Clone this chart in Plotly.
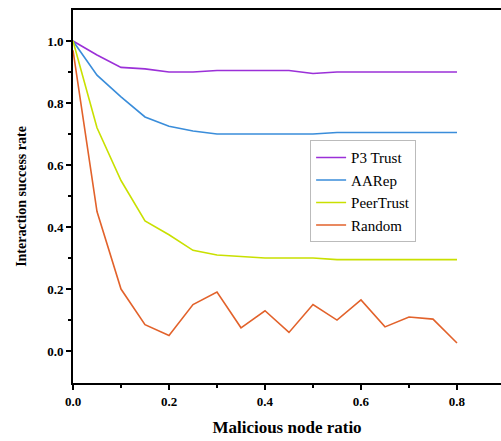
import plotly.graph_objects as go

ratio = [0.0, 0.05, 0.1, 0.15, 0.2, 0.25, 0.3, 0.35, 0.4, 0.45, 0.5, 0.55, 0.6, 0.65, 0.7, 0.75, 0.8]
p3trust = [1.0, 0.955, 0.915, 0.91, 0.9, 0.9, 0.905, 0.905, 0.905, 0.905, 0.895, 0.9, 0.9, 0.9, 0.9, 0.9, 0.9]
aarep = [1.0, 0.89, 0.82, 0.755, 0.725, 0.71, 0.70, 0.70, 0.70, 0.70, 0.70, 0.705, 0.705, 0.705, 0.705, 0.705, 0.705]
peertrust = [1.0, 0.72, 0.55, 0.42, 0.375, 0.325, 0.31, 0.305, 0.30, 0.30, 0.30, 0.295, 0.295, 0.295, 0.295, 0.295, 0.295]
random_ = [0.97, 0.45, 0.2, 0.085, 0.05, 0.15, 0.19, 0.075, 0.13, 0.06, 0.15, 0.10, 0.165, 0.078, 0.11, 0.103, 0.026]

names = ["P3 Trust", "AARep", "PeerTrust", "Random"]
series = [p3trust, aarep, peertrust, random_]
colors = ["#9B30D8", "#3A8DDA", "#C9E000", "#E2622B"]

fig = go.Figure()
for n, s, c in zip(names, series, colors):
    fig.add_trace(go.Scatter(x=ratio, y=s, name=n, mode="lines",
                             line=dict(color=c, width=1.6)))

font = "Liberation Serif, Times New Roman, serif"
fig.update_layout(
    width=501, height=441,
    margin=dict(l=73, r=0, t=10, b=58),
    paper_bgcolor="white", plot_bgcolor="white",
    font=dict(family=font, color="black", size=12),
    showlegend=True,
    legend=dict(x=0.554, y=0.651, xanchor="left", yanchor="top",
                bgcolor="white", bordercolor="#bbbbbb", borderwidth=1,
                font=dict(family=font, size=15, color="black"),
                tracegroupgap=0, itemwidth=30),
)
fig.update_xaxes(
    range=[0, 0.8917], showgrid=False, zeroline=False, automargin=False,
    showline=True, linecolor="black", linewidth=2, mirror=True,
    ticks="outside", ticklen=5, tickwidth=1.5, tickcolor="black",
    tickvals=[0, 0.2, 0.4, 0.6, 0.8], ticktext=["<b>0.0</b>", "<b>0.2</b>", "<b>0.4</b>", "<b>0.6</b>", "<b>0.8</b>"],
    minor=dict(tickvals=[0.1, 0.3, 0.5, 0.7], ticks="outside", ticklen=3, tickcolor="black", tickwidth=1.5),
    tickfont=dict(family=font, size=13),
    title=dict(text="<b>Malicious node ratio</b>", font=dict(family=font, size=17), standoff=14),
)
fig.update_yaxes(
    range=[-0.103, 1.1], showgrid=False, zeroline=False, automargin=False,
    showline=True, linecolor="black", linewidth=2, mirror=False,
    ticks="outside", ticklen=5, tickwidth=1.5, tickcolor="black",
    tickvals=[0, 0.2, 0.4, 0.6, 0.8, 1.0],
    ticktext=["<b>0.0</b>", "<b>0.2</b>", "<b>0.4</b>", "<b>0.6</b>", "<b>0.8</b>", "<b>1.0</b>"],
    minor=dict(tickvals=[0.1, 0.3, 0.5, 0.7, 0.9], ticks="outside", ticklen=3, tickcolor="black", tickwidth=1.5),
    tickfont=dict(family=font, size=13),
    title=dict(text="<b>Interaction success rate</b>", font=dict(family=font, size=14), standoff=17),
)

fig.write_html(
    "out.html",
    config={"displayModeBar": False},
    post_script="document.body.style.margin='0';document.body.style.padding='0';document.body.style.overflow='hidden';",
)
